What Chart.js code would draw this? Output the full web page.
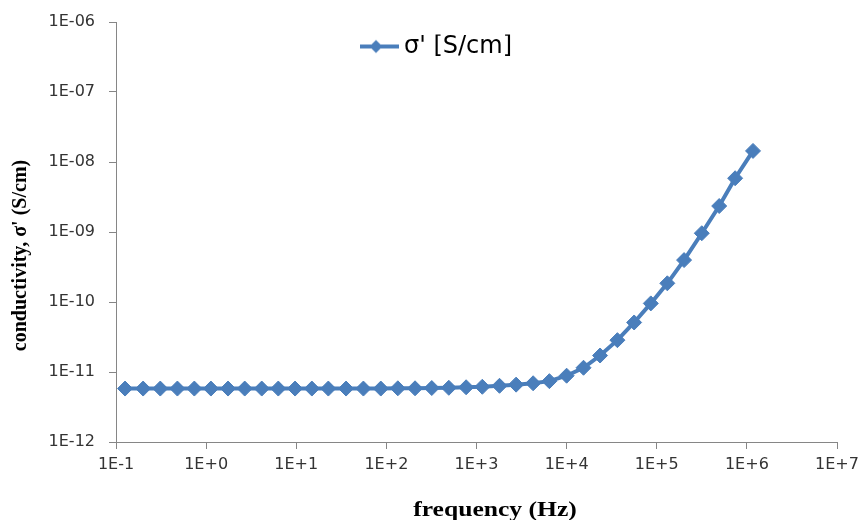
<!DOCTYPE html>
<html>
<head>
<meta charset="utf-8">
<script src="https://cdn.jsdelivr.net/npm/chart.js@4/dist/chart.umd.min.js"></script>
<style>
  html, body { margin: 0; padding: 0; background: #fff; }
  #wrap { width: 859px; height: 520px; position: relative; }
</style>
</head>
<body>
<div id="wrap"><canvas id="sigma-chart"></canvas></div>
<script>
// frequency (Hz) and conductivity sigma' (S/cm)
const freq = [0.126, 0.2, 0.31, 0.48, 0.74, 1.13, 1.75, 2.68, 4.14, 6.32,
              9.7, 14.9, 22.7, 35.7, 55.6, 86.7, 134, 208, 319, 493,
              767, 1160, 1800, 2750, 4250, 6440, 10000, 15400, 23500, 36600,
              56100, 85900, 131000, 201000, 316000, 493000, 741000, 1170000];
const sigma = [5.8e-12, 5.8e-12, 5.8e-12, 5.8e-12, 5.8e-12, 5.8e-12, 5.8e-12, 5.8e-12, 5.8e-12, 5.8e-12,
               5.8e-12, 5.8e-12, 5.8e-12, 5.8e-12, 5.8e-12, 5.8e-12, 5.85e-12, 5.85e-12, 5.9e-12, 5.95e-12,
               6.05e-12, 6.15e-12, 6.35e-12, 6.6e-12, 6.9e-12, 7.4e-12, 8.85e-12, 1.15e-11, 1.72e-11, 2.85e-11,
               5.1e-11, 9.55e-11, 1.85e-10, 3.97e-10, 9.6e-10, 2.35e-9, 5.86e-9, 1.44e-8];

const xTickValues = [1e-1, 1e0, 1e1, 1e2, 1e3, 1e4, 1e5, 1e6, 1e7];
const xTickLabels = ["1E-1", "1E+0", "1E+1", "1E+2", "1E+3", "1E+4", "1E+5", "1E+6", "1E+7"];
const yTickValues = [1e-12, 1e-11, 1e-10, 1e-9, 1e-8, 1e-7, 1e-6];
const yTickLabels = ["1E-12", "1E-11", "1E-10", "1E-09", "1E-08", "1E-07", "1E-06"];

const seriesName = "σ' [S/cm]";
const xTitle = "frequency (Hz)";
const yTitle = "conductivity, σ' (S/cm)";

const blue = "#4a7ebb";
const axisGrey = "#868686";

// legend marker: short line with a diamond on it
const legendMark = document.createElement("canvas");
legendMark.width = 46;
legendMark.height = 16;
(function () {
  const c = legendMark.getContext("2d");
  c.strokeStyle = blue;
  c.lineWidth = 4;
  c.beginPath(); c.moveTo(0, 8); c.lineTo(46, 8); c.stroke();
  c.fillStyle = blue;
  c.beginPath(); c.moveTo(23, 1.5); c.lineTo(29.5, 8); c.lineTo(23, 14.5); c.lineTo(16.5, 8); c.closePath(); c.fill();
})();

const placeLegend = {
  id: "placeLegend",
  afterLayout(chart) {
    const lg = chart.legend;
    if (!lg) return;
    const w = lg.width, h = lg.height;
    lg.left = 360; lg.top = 34.5;
    lg.right = lg.left + w; lg.bottom = lg.top + h;
  }
};

const axisTitles = {
  id: "axisTitles",
  afterDraw(chart) {
    const ctx = chart.ctx;
    ctx.save();
    ctx.fillStyle = "#000";
    ctx.font = 'bold 20px "Liberation Serif", "Times New Roman", serif';
    ctx.textAlign = "center";
    ctx.textBaseline = "alphabetic";
    ctx.save();
    ctx.translate(26, 255.5);
    ctx.rotate(-Math.PI / 2);
    ctx.fillText(yTitle, 0, 0);
    ctx.restore();
    ctx.save();
    ctx.translate(495, 516);
    ctx.scale(1.28, 1);
    ctx.fillText(xTitle, 0, 0);
    ctx.restore();
    ctx.restore();
  }
};

const tickFont = { family: '"DejaVu Sans", sans-serif', size: 16 };

new Chart(document.getElementById("sigma-chart"), {
  type: "scatter",
  data: {
    datasets: [{
      label: seriesName,
      data: freq.map((f, i) => ({ x: f, y: sigma[i] })),
      showLine: true,
      tension: 0,
      borderColor: blue,
      backgroundColor: blue,
      borderWidth: 4,
      pointStyle: "rectRot",
      pointRadius: 7.5,
      pointHoverRadius: 7.5,
      pointBorderWidth: 1,
      pointBackgroundColor: blue,
      pointBorderColor: blue
    }]
  },
  options: {
    responsive: true,
    maintainAspectRatio: false,
    animation: false,
    layout: { padding: { top: 22, right: 22, left: 0, bottom: 0 } },
    plugins: {
      legend: {
        position: "chartArea",
        align: "start",
        labels: {
          usePointStyle: true,
          pointStyle: legendMark,
          pointStyleWidth: 32,
          padding: 0,
          color: "#000",
          font: { family: '"DejaVu Sans", sans-serif', size: 24 }
        }
      },
      tooltip: { enabled: false }
    },
    scales: {
      x: {
        type: "logarithmic",
        min: 1e-1,
        max: 1e7,
        border: { color: axisGrey, width: 1 },
        grid: { drawOnChartArea: false, color: axisGrey, tickLength: 7 },
        afterBuildTicks: s => { s.ticks = xTickValues.map(v => ({ value: v })); },
        afterFit: s => { s.height = 78; s.paddingLeft = 0; s.paddingRight = 0; },
        ticks: {
          color: "#333",
          font: tickFont,
          padding: 6,
          maxRotation: 0,
          autoSkip: false,
          callback: (v, i) => xTickLabels[i]
        }
      },
      y: {
        type: "logarithmic",
        min: 1e-12,
        max: 1e-6,
        border: { color: axisGrey, width: 1 },
        grid: { drawOnChartArea: false, color: axisGrey, tickLength: 7 },
        afterBuildTicks: s => { s.ticks = yTickValues.map(v => ({ value: v })); },
        afterFit: s => { s.width = 116; s.paddingTop = 0; s.paddingBottom = 0; },
        ticks: {
          color: "#333",
          font: tickFont,
          padding: 14,
          autoSkip: false,
          callback: (v, i) => yTickLabels[i]
        }
      }
    }
  },
  plugins: [placeLegend, axisTitles]
});
</script>
</body>
</html>
